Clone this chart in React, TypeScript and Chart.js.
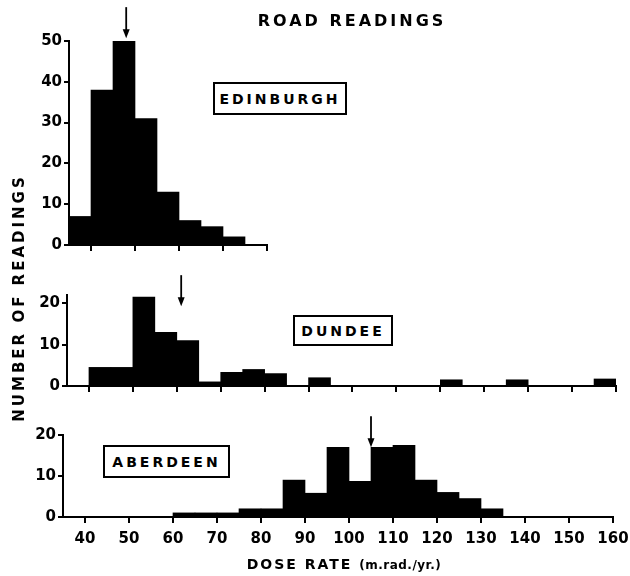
import React, { useEffect, useRef } from 'react';
import { Chart, registerables } from 'chart.js';

Chart.register(...registerables);

// ---- data ----
const BIN_WIDTH = 5;
const edinburghBinStarts = [35, 40, 45, 50, 55, 60, 65, 70];
const edinburghCounts = [7, 38, 50, 31, 13, 6, 4.5, 2];

const dundeeBinStarts = [40, 45, 50, 55, 60, 65, 70, 75, 80, 85, 90, 95, 100, 105, 110, 115, 120, 125, 130, 135, 140, 145, 150, 155];
const dundeeCounts = [4.5, 4.5, 21.5, 13, 11, 1, 3.3, 4, 3, 0, 2, 0, 0, 0, 0, 0, 1.5, 0, 0, 1.5, 0, 0, 0, 1.7];

const aberdeenBinStarts = [60, 65, 70, 75, 80, 85, 90, 95, 100, 105, 110, 115, 120, 125, 130];
const aberdeenCounts = [1, 1, 1, 2, 2, 9, 5.8, 17, 8.7, 17, 17.5, 9, 6, 4.5, 2];

const xTickValues = [40, 50, 60, 70, 80, 90, 100, 110, 120, 130, 140, 150, 160];
const edinburghYTicks = [0, 10, 20, 30, 40, 50];
const smallYTicks = [0, 10, 20];

// arrows (mean dose rate markers): x = dose rate, y = count level of arrow tip
const arrowDoseRates = [48, 61, 105];
const arrowTipCounts = [50.7, 19.3, 17];

const FONT = "'DejaVu Sans', sans-serif";

type Panel = {
  starts: number[];
  counts: number[];
  xMax: number;
  yMax: number;
  yTicks: number[];
  showXLabels: boolean;
  area: { left: number; right: number; top: number; bottom: number };
  xAxisHeight: number;
  arrowX: number;
  arrowY: number;
};

const W = 630;
const H = 576;

const panels: Panel[] = [
  {
    starts: edinburghBinStarts,
    counts: edinburghCounts,
    xMax: 80,
    yMax: 50,
    yTicks: edinburghYTicks,
    showXLabels: false,
    area: { left: 69, right: 267, top: 41, bottom: 245 },
    xAxisHeight: 8,
    arrowX: arrowDoseRates[0],
    arrowY: arrowTipCounts[0],
  },
  {
    starts: dundeeBinStarts,
    counts: dundeeCounts,
    xMax: 160,
    yMax: 22,
    yTicks: smallYTicks,
    showXLabels: false,
    area: { left: 67, right: 616, top: 295, bottom: 386 },
    xAxisHeight: 8,
    arrowX: arrowDoseRates[1],
    arrowY: arrowTipCounts[1],
  },
  {
    starts: aberdeenBinStarts,
    counts: aberdeenCounts,
    xMax: 160,
    yMax: 20,
    yTicks: smallYTicks,
    showXLabels: true,
    area: { left: 63, right: 613, top: 435, bottom: 517 },
    xAxisHeight: 34,
    arrowX: arrowDoseRates[2],
    arrowY: arrowTipCounts[2],
  },
];

const arrowPlugin = {
  id: 'doseArrow',
  afterDatasetsDraw(chart: any, _args: any, opts: any) {
    if (!opts || opts.x == null) return;
    const { ctx } = chart;
    const px = chart.scales.x.getPixelForValue(opts.x);
    const py = chart.scales.y.getPixelForValue(opts.y);
    ctx.save();
    ctx.strokeStyle = '#000';
    ctx.fillStyle = '#000';
    ctx.lineWidth = 1.8;
    ctx.beginPath();
    ctx.moveTo(px, py - 31);
    ctx.lineTo(px, py - 6);
    ctx.stroke();
    ctx.beginPath();
    ctx.moveTo(px - 3.5, py - 9);
    ctx.lineTo(px + 3.5, py - 9);
    ctx.lineTo(px, py);
    ctx.closePath();
    ctx.fill();
    ctx.restore();
  },
};

function PanelChart({ p }: { p: Panel }) {
  const ref = useRef<HTMLCanvasElement | null>(null);
  useEffect(() => {
    if (!ref.current) return;
    const data = p.starts.map((s, i) => ({ x: s + BIN_WIDTH / 2, y: p.counts[i] }));
    const tickFont = { family: FONT, size: 15, weight: 'bold' as const };
    const chart = new Chart(ref.current, {
      type: 'bar',
      data: {
        datasets: [
          {
            data,
            backgroundColor: '#000',
            borderWidth: 0,
            barPercentage: 1,
            categoryPercentage: 1,
            grouped: false,
          } as any,
        ],
      },
      options: {
        animation: false,
        responsive: false,
        devicePixelRatio: 1,
        layout: {
          padding: {
            left: 0,
            right: W - p.area.right,
            top: p.area.top,
            bottom: H - p.area.bottom - p.xAxisHeight,
          },
        },
        plugins: {
          legend: { display: false },
          tooltip: { enabled: false },
          doseArrow: { x: p.arrowX, y: p.arrowY },
        } as any,
        scales: {
          x: {
            type: 'linear',
            offset: false,
            min: 35,
            max: p.xMax,
            grid: {
              display: true,
              offset: false,
              drawOnChartArea: false,
              drawTicks: true,
              tickLength: 6,
              color: '#000',
              lineWidth: 2,
            },
            border: { display: true, color: '#000', width: 2 },
            ticks: {
              autoSkip: false,
              color: '#000',
              font: tickFont,
              padding: 7,
              maxRotation: 0,
              callback: (v: any) => (p.showXLabels ? String(v) : ''),
            },
            afterBuildTicks: (axis: any) => {
              axis.ticks = xTickValues.filter((v) => v <= p.xMax).map((v) => ({ value: v }));
            },
            afterFit: (axis: any) => {
              axis.height = p.xAxisHeight;
              axis.paddingLeft = 0;
              axis.paddingRight = 0;
            },
          },
          y: {
            min: 0,
            max: p.yMax,
            grid: {
              display: true,
              drawOnChartArea: false,
              drawTicks: true,
              tickLength: 5,
              color: '#000',
              lineWidth: 2,
            },
            border: { display: true, color: '#000', width: 2 },
            ticks: {
              color: '#000',
              font: tickFont,
              padding: 2,
            },
            afterBuildTicks: (axis: any) => {
              axis.ticks = p.yTicks.map((v) => ({ value: v }));
            },
            afterFit: (axis: any) => {
              axis.width = p.area.left;
              axis.paddingTop = 0;
              axis.paddingBottom = 0;
            },
          },
        },
      },
      plugins: [arrowPlugin],
    });
    return () => chart.destroy();
  }, [p]);
  return (
    <canvas
      ref={ref}
      width={W}
      height={H}
      style={{ position: 'absolute', left: 0, top: 0, width: W, height: H }}
    />
  );
}

const boxStyle: React.CSSProperties = {
  position: 'absolute',
  border: '2px solid #000',
  display: 'flex',
  alignItems: 'center',
  justifyContent: 'center',
  fontFamily: FONT,
  fontWeight: 'bold',
  fontSize: 14,
  letterSpacing: 3,
  boxSizing: 'border-box',
  background: '#fff',
};

export default function App() {
  return (
    <div
      style={{
        position: 'fixed',
        left: 0,
        top: 0,
        width: W,
        height: H,
        background: '#fff',
        color: '#000',
        fontFamily: FONT,
        overflow: 'hidden',
      }}
    >
      {panels.map((p, i) => (
        <PanelChart key={i} p={p} />
      ))}
      <div
        style={{
          position: 'absolute',
          left: 250,
          top: 11,
          width: 204,
          textAlign: 'center',
          fontWeight: 'bold',
          fontSize: 16,
          letterSpacing: 3,
        }}
      >
        ROAD READINGS
      </div>
      <div style={{ ...boxStyle, left: 213, top: 82, width: 134, height: 33 }}>EDINBURGH</div>
      <div style={{ ...boxStyle, left: 293, top: 315, width: 100, height: 31 }}>DUNDEE</div>
      <div style={{ ...boxStyle, left: 103, top: 445, width: 127, height: 33 }}>ABERDEEN</div>
      <div
        style={{
          position: 'absolute',
          left: 19 - 130,
          top: 298 - 10,
          width: 260,
          height: 20,
          lineHeight: '20px',
          textAlign: 'center',
          transform: 'rotate(-90deg)',
          fontWeight: 'bold',
          fontSize: 15,
          letterSpacing: 3,
          whiteSpace: 'nowrap',
        }}
      >
        NUMBER OF READINGS
      </div>
      <div
        style={{
          position: 'absolute',
          left: 204,
          top: 556,
          width: 280,
          textAlign: 'center',
          fontWeight: 'bold',
          fontSize: 14,
          letterSpacing: 2,
          whiteSpace: 'nowrap',
        }}
      >
        DOSE RATE <span style={{ fontSize: 12, letterSpacing: 0.5 }}>(m.rad./yr.)</span>
      </div>
    </div>
  );
}
